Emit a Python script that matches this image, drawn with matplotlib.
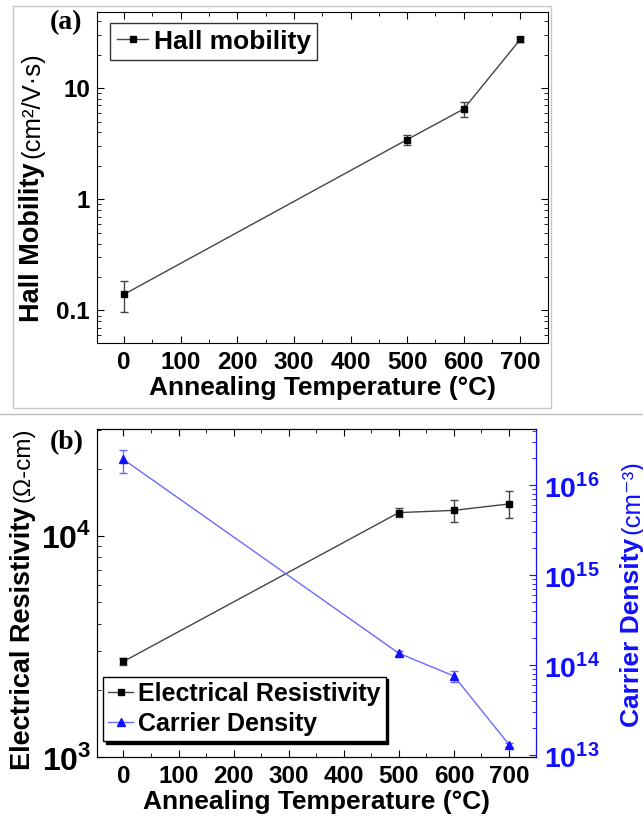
import matplotlib.pyplot as plt
from matplotlib.patches import Rectangle
from matplotlib.lines import Line2D
from matplotlib.ticker import LogLocator, MultipleLocator, NullFormatter, FixedLocator, FixedFormatter

plt.rcParams['font.family'] = ['Liberation Sans', 'DejaVu Sans']
plt.rcParams['mathtext.fontset'] = 'custom'
plt.rcParams['mathtext.rm'] = 'Liberation Sans:bold'
plt.rcParams['mathtext.bf'] = 'Liberation Sans:bold'

# data
temps = [0, 500, 600, 700]
mobility = [0.14, 3.45, 6.5, 27.5]
mobility_err = [0.043, 0.38, 0.95, 1.2]
resistivity = [2700, 12700, 13000, 13900]
resistivity_err = [90, 600, 1500, 1950]
carrier = [1.93e16, 1.36e14, 7.6e13, 1.32e13]
carrier_err = [0.55e16, 0.08e14, 1.0e13, 0.07e13]

W, H = 643, 819
fig = plt.figure(figsize=(W / 100, H / 100), dpi=100)


def box(l, r, t, b):
    return [l / W, 1 - b / H, (r - l) / W, (b - t) / H]


# gray frame of panel (a) and separator line
fig.add_artist(Rectangle((13 / W, 1 - 408 / H), (551 - 13) / W, (408 - 6) / H,
                         transform=fig.transFigure, fill=False, edgecolor='#c8c8c8', lw=1))
fig.add_artist(Line2D([0, 1], [1 - 414 / H] * 2, transform=fig.transFigure, color='#bdbdbd', lw=1))

blue = '#1010ff'
line_blue = '#6a6aff'
line_gray = '#444444'
TICK = 17.5


def style_x(ax):
    ax.set_xlim(-48, 749)
    ax.xaxis.set_major_locator(FixedLocator([0, 100, 200, 300, 400, 500, 600, 700]))
    ax.xaxis.set_minor_locator(MultipleLocator(50))
    ax.tick_params(axis='x', which='both', direction='in', top=True)
    ax.tick_params(axis='x', which='major', length=5, pad=6, labelsize=TICK)
    ax.tick_params(axis='x', which='minor', length=3)
    for lab in ax.get_xticklabels():
        lab.set_fontweight('bold')
    ax.set_xlabel('Annealing Temperature (°C)', fontsize=19, fontweight='bold', labelpad=1)


def ylabel_pair(x, y_bottom, main, unit, main_size, unit_size, color='black'):
    t1 = fig.text(x / W, 1 - y_bottom / H, main, rotation=90, ha='center', va='bottom',
                  fontsize=main_size, fontweight='bold', color=color)
    bb = t1.get_window_extent(fig.canvas.get_renderer())
    fig.text(x / W, (bb.y1 + 4) / H, unit, rotation=90, ha='center', va='bottom',
             fontsize=unit_size, color=color)


# ---------- panel (a) ----------
axa = fig.add_axes(box(97, 548, 12, 343))
axa.set_yscale('log')
axa.errorbar(temps, mobility, yerr=mobility_err, color=line_gray, lw=1, marker='s', ms=5,
             mfc='black', mec='black', capsize=3, elinewidth=1, ecolor=line_gray)
axa.set_ylim(0.051, 48.5)
axa.yaxis.set_major_locator(FixedLocator([0.1, 1, 10]))
axa.yaxis.set_major_formatter(FixedFormatter(['0.1', '1', '10']))
axa.yaxis.set_minor_locator(LogLocator(base=10, subs=range(2, 10)))
axa.yaxis.set_minor_formatter(NullFormatter())
axa.tick_params(axis='y', which='both', direction='in', right=True)
axa.tick_params(axis='y', which='major', length=5, labelsize=TICK, pad=5)
axa.tick_params(axis='y', which='minor', length=3)
for lab in axa.get_yticklabels():
    lab.set_fontweight('bold')
style_x(axa)
ylabel_pair(32, 322, 'Hall Mobility', '(cm²/V·s)', 19.5, 18.5)

h_a = Line2D([], [], color=line_gray, lw=1, marker='s', ms=5, mfc='black', mec='black')
leg = axa.legend([h_a], ['Hall mobility'], loc='upper left', bbox_to_anchor=(0.029, 0.967),
                 borderaxespad=0, frameon=True, fancybox=False, handlelength=1.2,
                 handletextpad=0.2, borderpad=0.25, prop=dict(size=19, weight='bold'))
leg.get_frame().set_edgecolor('black')
leg.get_frame().set_linewidth(1)
fig.text(66 / W, 1 - 23 / H, '(a)', fontsize=20, fontweight='bold', family='Liberation Serif',
         ha='center', va='center')

# ---------- panel (b) ----------
axb = fig.add_axes(box(97, 536, 429, 757))
axb.set_yscale('log')
axb.errorbar(temps, resistivity, yerr=resistivity_err, color=line_gray, lw=1, marker='s',
             ms=5, mfc='black', mec='black', capsize=3, elinewidth=1, ecolor=line_gray)
axb.set_ylim(1000, 30300)
axb.yaxis.set_major_locator(FixedLocator([1e3, 1e4]))
axb.yaxis.set_major_formatter(FixedFormatter(['$10^3$', '$10^4$']))
axb.yaxis.set_minor_locator(LogLocator(base=10, subs=range(2, 10)))
axb.yaxis.set_minor_formatter(NullFormatter())
axb.tick_params(axis='y', which='both', direction='in')
axb.tick_params(axis='y', which='major', length=5, labelsize=23, pad=4)
axb.tick_params(axis='y', which='minor', length=3)
style_x(axb)
ylabel_pair(23, 770, 'Electrical Resistivity', '(Ω-cm)', 19.5, 17.5)

ax2 = axb.twinx()
ax2.set_yscale('log')
ax2.errorbar(temps, carrier, yerr=carrier_err, color=line_blue, lw=1, marker='^', ms=6,
             mfc=blue, mec=blue, capsize=3, elinewidth=1, ecolor=line_blue)
ax2.set_ylim(9.6e12, 4.2e16)
ax2.yaxis.set_major_locator(FixedLocator([1e13, 1e14, 1e15, 1e16]))
ax2.yaxis.set_major_formatter(FixedFormatter(['$10^{13}$', '$10^{14}$', '$10^{15}$', '$10^{16}$']))
ax2.yaxis.set_minor_locator(LogLocator(base=10, subs=range(2, 10)))
ax2.yaxis.set_minor_formatter(NullFormatter())
ax2.tick_params(axis='y', which='both', direction='in', colors=blue, labelcolor=blue)
ax2.tick_params(axis='y', which='major', length=5, labelsize=20.5, pad=6)
ax2.tick_params(axis='y', which='minor', length=3)
ax2.spines['right'].set_color(blue)
ylabel_pair(632, 727, 'Carrier Density', '(cm⁻³)', 19, 18.5, color=blue)

h1 = Line2D([], [], color=line_gray, lw=1, marker='s', ms=5, mfc='black', mec='black')
h2 = Line2D([], [], color=line_blue, lw=1, marker='^', ms=6, mfc=blue, mec=blue)
legb = ax2.legend([h1, h2], ['Electrical Resistivity', 'Carrier Density'], loc='lower left',
                  bbox_to_anchor=(0.0137, 0.049), borderaxespad=0,
                  frameon=True, fancybox=False, shadow={'color': 'black', 'alpha': 1},
                  handlelength=1.0, handletextpad=0.2, borderpad=0.2, labelspacing=0.25,
                  prop=dict(size=18, weight='bold'))
legb.get_frame().set_edgecolor('black')
legb.get_frame().set_linewidth(1)
fig.text(67 / W, 1 - 443 / H, '(b)', fontsize=20, fontweight='bold', family='Liberation Serif',
         ha='center', va='center')

fig.savefig('out.png', dpi=100)
